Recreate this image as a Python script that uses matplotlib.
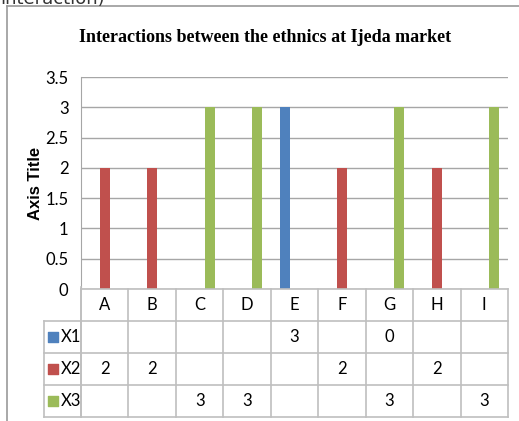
import matplotlib.pyplot as plt
import numpy as np

categories = ['A', 'B', 'C', 'D', 'E', 'F', 'G', 'H', 'I']
series_names = ['X1', 'X2', 'X3']
x1 = [None, None, None, None, 3, None, 0, None, None]
x2 = [2, 2, None, None, None, 2, None, 2, None]
x3 = [None, None, 3, 3, None, None, 3, None, 3]
colors = ['#4F81BD', '#C0504D', '#9BBB59']

W, H = 519, 421
fig = plt.figure(figsize=(W / 100, H / 100), dpi=100)

def frac(left, top, right, bottom):
    return [left / W, 1 - bottom / H, (right - left) / W, (bottom - top) / H]

grid_c = '#A6A6A6'
table_c = '#BFBFBF'
narrow = ['Lato', 'DejaVu Sans']

# outer chart border
fig.add_artist(plt.Line2D([7 / W, 7 / W], [0, 1 - 6 / H], color='#999999', lw=1.2))
fig.add_artist(plt.Line2D([7 / W, 1], [1 - 6 / H, 1 - 6 / H], color='#999999', lw=1.2))
fig.text(0.0, 1 - 4 / H, 'interaction)', fontsize=13, color='#333333',
         ha='left', va='baseline', family='DejaVu Sans')

fig.text(265 / W, 1 - 38 / H, 'Interactions between the ethnics at Ijeda market',
         ha='center', va='center', fontsize=13, fontweight='bold',
         family='Liberation Serif')

ax = fig.add_axes(frac(81, 77, 508, 289))
x = np.arange(len(categories))
bw = 0.21
for i, (vals, col) in enumerate(zip([x1, x2, x3], colors)):
    xs = [xi + (i - 1) * bw for xi, v in zip(x, vals) if v is not None]
    ys = [v for v in vals if v is not None]
    ax.bar(xs, ys, width=bw, color=col, zorder=3)

ax.set_xlim(-0.5, len(categories) - 0.5)
ax.set_ylim(0, 3.5)
ax.set_yticks(np.arange(0, 3.51, 0.5))
ax.set_yticklabels(['0', '0.5', '1', '1.5', '2', '2.5', '3', '3.5'],
                   family=narrow, fontsize=12)
ax.set_xticks([])
ax.yaxis.grid(True, color=grid_c, lw=1)
ax.tick_params(axis='y', length=0, pad=9)
for s in ['top', 'right', 'bottom']:
    ax.spines[s].set_visible(False)
ax.spines['left'].set_color(grid_c)
fig.text(35 / W, 1 - 183 / H, 'Axis Title', rotation=90, ha='center', va='center',
         fontsize=12, fontweight='bold', family='Liberation Sans')

# data table below the plot
tab = fig.add_axes(frac(81, 289, 508, 417))
tab.set_xlim(-0.5, len(categories) - 0.5)
tab.set_ylim(4, 0)
tab.axis('off')
left_edge = -0.5 - 37 / 47.4
for r in range(5):
    x0 = -0.5 if r == 0 else left_edge
    tab.plot([x0, len(categories) - 0.5], [r, r], color=table_c, lw=1.2, clip_on=False)
for c in range(len(categories) + 1):
    tab.plot([c - 0.5, c - 0.5], [0, 4], color=table_c, lw=1.2, clip_on=False)
tab.plot([-0.5, -0.5], [-0.05, 4], color=table_c, lw=1.2, clip_on=False)
tab.plot([left_edge, left_edge], [1, 4], color=table_c, lw=1.2, clip_on=False)

for j, cat in enumerate(categories):
    tab.text(j, 0.5, cat, ha='center', va='center', fontsize=12, family=narrow)
for r, (name, vals, col) in enumerate(zip(series_names, [x1, x2, x3], colors)):
    y = r + 1.5
    tab.scatter([left_edge + 0.2], [y], marker='s', s=45, color=col, clip_on=False)
    tab.text(left_edge + 0.35, y, name, ha='left', va='center', fontsize=12,
             family=narrow)
    for j, v in enumerate(vals):
        if v is not None:
            tab.text(j, y, str(v), ha='center', va='center', fontsize=12, family=narrow)

fig.savefig('out.png', dpi=100)
